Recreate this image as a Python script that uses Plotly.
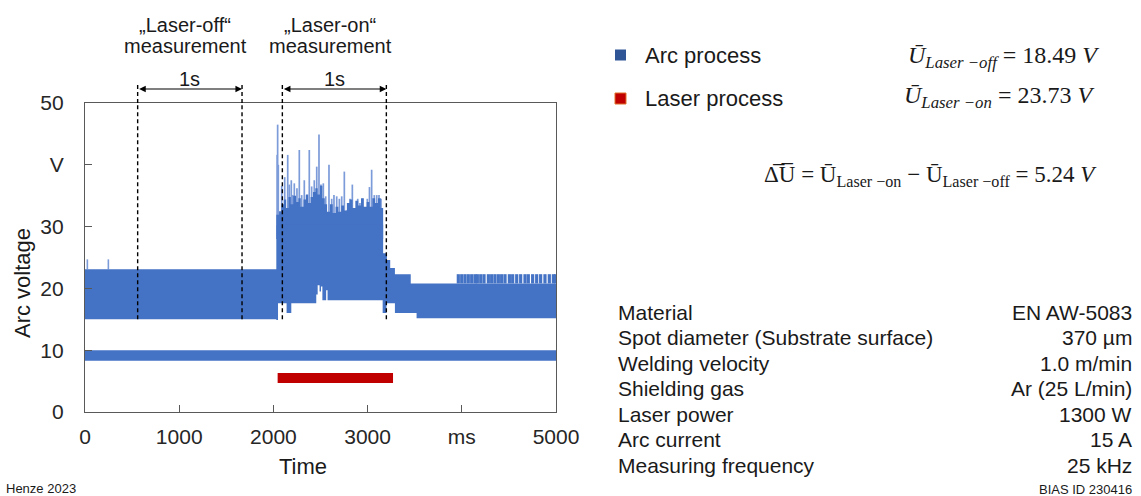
import plotly.graph_objects as go

# ---------------- data ----------------
x_ticks = [0, 1000, 2000, 3000, 4000, 5000]
x_ticktext = ["0", "1000", "2000", "3000", "ms", "5000"]
y_ticks = [0, 10, 20, 30, 40, 50]
y_ticktext = ["0", "10", "20", "30", "V", "50"]

# lower pulse band of the arc voltage (V)
low_t = [0, 5000]
low_bottom = [8.3, 8.3]
low_top = [10.0, 10.0]

# upper band: lower envelope (step)
band_lo_t = [0, 2031, 2049, 2140, 2190, 2455, 2470, 2490, 2505, 2520, 2560, 2575, 3160, 3200, 3290, 3520, 5000]
band_lo_v = [15.0, 14.9, 17.6, 16.0, 17.6, 19.0, 20.5, 19.5, 20.3, 18.1, 19.7, 18.1, 16.0, 17.6, 16.0, 15.15, 15.15]
# upper band: upper envelope of the dense core (step)
band_hi_t = [0, 2031, 3165, 3205, 3240, 3290, 3458, 5000]
band_hi_v = [23.1, 30.3, 25.7, 24.6, 23.3, 22.3, 20.8, 20.8]

# jagged dense zone during the laser-on phase (step)
mid_t = [2031, 2060, 2085, 2110, 2135, 2160, 2185, 2210, 2240, 2265, 2290, 2320, 2345, 2370, 2395, 2420,
         2445, 2470, 2495, 2520, 2545, 2570, 2600, 2630, 2660, 2690, 2720, 2750, 2780, 2810, 2840,
         2870, 2900, 2930, 2960, 2990, 3020, 3050, 3080, 3110, 3140, 3165]
mid_v = [31.9, 32.5, 33.6, 34.4, 33.0, 34.8, 33.6, 35.0, 34.0, 34.6, 33.2, 34.4, 35.2, 33.8, 34.8, 35.6,
         36.2, 35.2, 36.6, 34.6, 33.6, 32.4, 33.6, 32.2, 33.2, 32.4, 33.4, 32.6, 33.8, 34.4, 33.0,
         34.2, 33.4, 34.6, 33.2, 34.0, 33.2, 34.6, 33.8, 34.6, 33.0, 33.0]
mid_base = 28.0
core_top = 30.3

# voltage peaks in the laser-on phase: time (ms), peak (V)
peak_t = [2040, 2045, 2052, 2088, 2120, 2152, 2169, 2190, 2205, 2222, 2250, 2275, 2300, 2328, 2353, 2381,
          2406, 2434, 2460, 2484, 2505, 2530, 2555, 2590, 2619, 2643, 2672, 2700, 2725, 2753, 2785,
          2813, 2838, 2866, 2895, 2919, 2944, 2972, 2997, 3020, 3043, 3071, 3097, 3121, 3142]
peak_v = [41.6, 46.5, 40.0, 36.6, 38.0, 41.6, 36.8, 37.5, 35.1, 37.0, 36.2, 42.4, 35.1, 37.5, 35.1, 42.4,
          36.5, 37.5, 39.7, 44.9, 36.8, 37.0, 34.9, 40.0, 34.5, 35.1, 34.9, 34.5, 34.9, 38.9, 32.7,
          34.5, 36.8, 32.7, 34.5, 33.8, 34.5, 32.7, 34.5, 36.4, 39.2, 35.1, 35.1, 35.1, 34.5]

# early small peaks (before laser)
early_t = [25, 248]
early_v = [24.7, 24.7]
early_base = 23.1

# late peaks after 3960 ms
late_t = [3963, 3999, 4034, 4069, 4105, 4140, 4165, 4201, 4236, 4282, 4317, 4352, 4388, 4423,
          4459, 4505, 4540, 4583, 4625, 4671, 4706, 4752, 4795, 4837, 4883, 4929, 4972, 4995]
late_v = [22.3] * len(late_t)
late_base = 20.8

# laser process
laser_t = [2045, 3270]
laser_v = [5.5, 5.5]

# measurement windows (ms)
off_window = [559, 1667]
on_window = [2095, 3199]
window_bottom = 15.0

table_labels = ["Material", "Spot diameter (Substrate surface)", "Welding velocity",
                "Shielding gas", "Laser power", "Arc current", "Measuring frequency"]
table_values = ["EN AW-5083", "370 µm", "1.0 m/min", "Ar (25 L/min)", "1300 W", "15 A", "25 kHz"]

# ---------------- layout helpers ----------------
FIG_W, FIG_H = 1141, 496
L, T, W, H = 85, 103, 471, 309


def px(xp):
    return (xp - L) / W


def py(yp):
    return (T + H - yp) / H


BLUE = "#4472C4"
LIGHT = "#7C9BD9"
RED = "#C00000"
TXT = "#1a1a1a"
SANS = "Liberation Sans, Arial, sans-serif"
SERIF = "Liberation Serif, Times New Roman, serif"

fig = go.Figure()

# low band
fig.add_trace(go.Scatter(x=low_t, y=low_bottom, mode="lines", line=dict(width=0, color=BLUE),
                         showlegend=False, hoverinfo="skip"))
fig.add_trace(go.Scatter(x=low_t, y=low_top, mode="lines", line=dict(width=0, color=BLUE),
                         fill="tonexty", fillcolor=BLUE, showlegend=False, hoverinfo="skip"))


def spikes(ts, vs, base):
    xs, ys = [], []
    for t, v in zip(ts, vs):
        xs += [t, t, None]
        ys += [base, v, None]
    return xs, ys


sx, sy = spikes(peak_t, peak_v, core_top)
fig.add_trace(go.Scatter(x=sx, y=sy, mode="lines", line=dict(width=1.7, color=LIGHT),
                         showlegend=False, hoverinfo="skip"))
sx, sy = spikes(early_t, early_v, early_base)
fig.add_trace(go.Scatter(x=sx, y=sy, mode="lines", line=dict(width=1.6, color=LIGHT),
                         showlegend=False, hoverinfo="skip"))
sx, sy = spikes(late_t, late_v, late_base)
fig.add_trace(go.Scatter(x=sx, y=sy, mode="lines", line=dict(width=3.2, color=BLUE),
                         showlegend=False, hoverinfo="skip"))

# jagged dense zone in laser-on phase
fig.add_trace(go.Scatter(x=[mid_t[0], mid_t[-1]], y=[mid_base, mid_base], mode="lines",
                         line=dict(width=0, color=BLUE), showlegend=False, hoverinfo="skip"))
fig.add_trace(go.Scatter(x=mid_t, y=mid_v, mode="lines", line=dict(width=0, color=BLUE, shape="hv"),
                         fill="tonexty", fillcolor=BLUE, showlegend=False, hoverinfo="skip"))

# upper band core
fig.add_trace(go.Scatter(x=band_lo_t, y=band_lo_v, mode="lines", line=dict(width=0, color=BLUE, shape="hv"),
                         showlegend=False, hoverinfo="skip"))
fig.add_trace(go.Scatter(x=band_hi_t, y=band_hi_v, mode="lines", line=dict(width=0, color=BLUE, shape="hv"),
                         fill="tonexty", fillcolor=BLUE, showlegend=False, hoverinfo="skip"))

# laser
fig.add_trace(go.Scatter(x=laser_t, y=laser_v, mode="lines", line=dict(width=10, color=RED),
                         showlegend=False, hoverinfo="skip"))

shapes = []
annotations = []


def note(xp, yp, text, size, xanchor="center", family=SANS, **kw):
    annotations.append(dict(x=px(xp), y=py(yp), xref="paper", yref="paper", text=text,
                            xanchor=xanchor, yanchor="middle", showarrow=False,
                            font=dict(family=family, size=size, color=TXT), **kw))


# dashed measurement lines
for t in off_window + on_window:
    shapes.append(dict(type="line", xref="x", yref="y", x0=t, x1=t, y0=window_bottom, y1=50,
                       line=dict(color="black", width=1.4, dash="4px,3px"), layer="above"))
    shapes.append(dict(type="line", xref="x", yref="paper", x0=t, x1=t, y0=1, y1=py(82),
                       line=dict(color="black", width=1.4, dash="4px,3px")))

for win in (off_window, on_window):
    annotations.append(dict(x=win[1], y=py(89), xref="x", yref="paper", ax=win[0], ay=0,
                            axref="x", ayref="pixel", text="", showarrow=True, arrowhead=2,
                            arrowside="end+start", arrowsize=1.1, arrowwidth=1.2, arrowcolor="black"))
    annotations.append(dict(x=(win[0] + win[1]) / 2, y=py(79), xref="x", yref="paper", text="1s",
                            xanchor="center", yanchor="middle", showarrow=False,
                            font=dict(family=SANS, size=20, color=TXT)))

# headers
for cx, t1 in ((185, "„Laser-off“"), (330, "„Laser-on“")):
    note(cx, 25, t1, 20)
    note(cx, 46, "measurement", 20)

# axis titles
note(22, 283, "Arc voltage", 22, textangle=-90)
note(303, 466, "Time", 22)

# legend
shapes.append(dict(type="rect", xref="paper", yref="paper", x0=px(615), x1=px(626), y0=py(60.5), y1=py(49.5),
                   fillcolor="#2F5597", line=dict(width=0)))
shapes.append(dict(type="rect", xref="paper", yref="paper", x0=px(615), x1=px(626), y0=py(104), y1=py(93),
                   fillcolor=RED, line=dict(width=1, color="#E0702A")))
note(643, 55, "Arc process", 22, xanchor="left")
note(643, 98, "Laser process", 22, xanchor="left")

# equations
UB = "U\u0304"
eq1 = f"<i>{UB}</i><sub><i>Laser −off</i></sub> = 18.49 <i>V</i>"
eq2 = f"<i>{UB}</i><sub><i>Laser −on</i></sub> = 23.73 <i>V</i>"
eq3 = f"\u0394\u0305U\u0305 = {UB}<sub>Laser −on</sub> − {UB}<sub>Laser −off</sub> = 5.24 <i>V</i>"
note(1101, 57, eq1, 24, xanchor="right", family=SERIF)
note(1096, 97, eq2, 24, xanchor="right", family=SERIF)
note(1099, 176, eq3, 23, xanchor="right", family=SERIF)

# table
row_y = [312, 337.5, 363, 388.5, 414, 439.5, 465]
for lab, val, yy in zip(table_labels, table_values, row_y):
    note(616, yy, lab, 21, xanchor="left")
    note(1134, yy, val, 21, xanchor="right")

note(4, 488, "Henze 2023", 13, xanchor="left")
note(1134, 489, "BIAS ID 230416", 13, xanchor="right")

fig.update_layout(
    width=FIG_W, height=FIG_H,
    margin=dict(l=L, r=FIG_W - L - W, t=T, b=FIG_H - T - H, pad=0),
    paper_bgcolor="white", plot_bgcolor="white",
    showlegend=False,
    shapes=shapes, annotations=annotations,
    xaxis=dict(range=[0, 5000], tickvals=x_ticks, ticktext=x_ticktext, ticks="inside", ticklen=7,
               tickcolor="#595959", showline=True, linecolor="#595959", linewidth=1.3, mirror=True,
               showgrid=False, zeroline=False, ticklabelstandoff=6,
               tickfont=dict(family=SANS, size=21, color="#262626")),
    yaxis=dict(range=[0, 50], tickvals=y_ticks, ticktext=y_ticktext, ticks="inside", ticklen=7,
               tickcolor="#595959", showline=True, linecolor="#595959", linewidth=1.3, mirror=True,
               showgrid=False, zeroline=False, ticklabelstandoff=16,
               tickfont=dict(family=SANS, size=21, color="#262626")),
)

fig.write_html("out.html")
